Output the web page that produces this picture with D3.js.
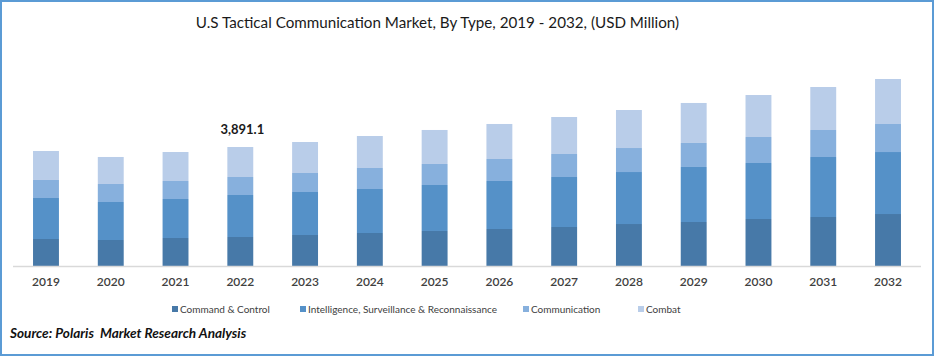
<!DOCTYPE html>
<html>
<head>
<meta charset="utf-8">
<script src="https://cdn.jsdelivr.net/npm/d3@7"></script>
<style>
  html, body { margin: 0; padding: 0; background: #ffffff; }
  svg { display: block; }
</style>
</head>
<body>
<svg id="chart" width="935" height="357"></svg>
<script>
// ---- data ----
const years = ["2019","2020","2021","2022","2023","2024","2025","2026","2027","2028","2029","2030","2031","2032"];
const seriesNames = ["Command & Control", "Intelligence, Surveillance & Reconnaissance", "Communication", "Combat"];
const commandControl = [883, 850, 916, 948.4, 1014, 1079, 1145, 1210, 1275, 1373, 1439, 1537, 1602, 1700];
const isr            = [1341, 1243, 1275, 1373.4, 1406, 1439, 1504, 1570, 1635, 1700, 1799, 1831, 1962, 2027];
const communication  = [589, 589, 589, 588.6, 621, 687, 687, 719, 752, 785, 785, 850, 883, 916];
const combat         = [948, 883, 948, 980.7, 1014, 1046, 1112, 1145, 1210, 1243, 1308, 1373, 1406, 1472];
const annotationYear = "2022";
const annotationText = "3,891.1";
const titleText = "U.S Tactical Communication Market, By Type, 2019 - 2032, (USD Million)";
const sourceText = "Source: Polaris  Market Research Analysis";

const colors = ["#4779a8", "#5591c8", "#87b0dd", "#b9cde9"];

// ---- build table ----
const keys = ["cc", "isr", "comm", "combat"];
const table = years.map((y, i) => ({
  year: y, cc: commandControl[i], isr: isr[i], comm: communication[i], combat: combat[i]
}));
const stacked = d3.stack().keys(keys)(table);

const svg = d3.select("#chart");
const FONT = "Lato, 'Open Sans', sans-serif";

// border
svg.append("rect")
  .attr("x", 1).attr("y", 1).attr("width", 932).attr("height", 354)
  .attr("fill", "none").attr("stroke", "#5b9bd5").attr("stroke-width", 2);

// scales
const x = d3.scaleBand().domain(years).range([13.6, 920.4]).paddingInner(0.6).paddingOuter(0.3);
const y = d3.scaleLinear().domain([0, 7000]).range([266, 266 - 7000 / 32.7]);

// bars
svg.append("g").selectAll("g.layer").data(stacked).join("g")
  .attr("class", "layer")
  .attr("fill", (d, i) => colors[i])
  .selectAll("rect").data(d => d).join("rect")
  .attr("x", d => x(d.data.year))
  .attr("width", x.bandwidth())
  .attr("y", d => y(d[1]))
  .attr("height", d => y(d[0]) - y(d[1]));

// x axis
const xAxis = svg.append("g")
  .attr("transform", "translate(0,266)")
  .call(d3.axisBottom(x).tickSize(0).tickPadding(11));
xAxis.select(".domain").attr("stroke", "#d9d9d9").attr("stroke-width", 1.5)
  .attr("d", "M13,0.5H921");
xAxis.selectAll("text")
  .attr("font-family", FONT)
  .attr("font-size", 12)
  .attr("font-weight", 600)
  .attr("fill", "#404040");

// annotation
const annIdx = years.indexOf(annotationYear);
const annTotal = commandControl[annIdx] + isr[annIdx] + communication[annIdx] + combat[annIdx];
svg.append("text")
  .attr("x", x(annotationYear) + x.bandwidth() / 2 + 2)
  .attr("y", y(annTotal) - 13)
  .attr("text-anchor", "middle")
  .attr("font-family", FONT)
  .attr("font-size", 13)
  .attr("font-weight", "bold")
  .attr("fill", "#1a1a1a")
  .text(annotationText);

// title
svg.append("text")
  .attr("x", 437.5).attr("y", 28)
  .attr("text-anchor", "middle")
  .attr("font-family", FONT)
  .attr("font-size", 15.2)
  .attr("fill", "#1a1a1a")
  .text(titleText);

// legend
const legendX = [172, 300, 523, 638];
const legend = svg.append("g");
seriesNames.forEach((name, i) => {
  legend.append("rect")
    .attr("x", legendX[i]).attr("y", 306).attr("width", 6).attr("height", 6)
    .attr("fill", colors[i]);
  legend.append("text")
    .attr("x", legendX[i] + 8).attr("y", 313)
    .attr("font-family", FONT)
    .attr("font-size", 10)
    .attr("fill", "#404040")
    .text(name);
});

// source
svg.append("text")
  .attr("x", 10).attr("y", 338)
  .attr("font-family", FONT)
  .attr("font-size", 13.6)
  .attr("font-weight", "bold")
  .attr("font-style", "italic")
  .attr("fill", "#111111")
  .style("white-space", "pre")
  .text(sourceText);
</script>
</body>
</html>
